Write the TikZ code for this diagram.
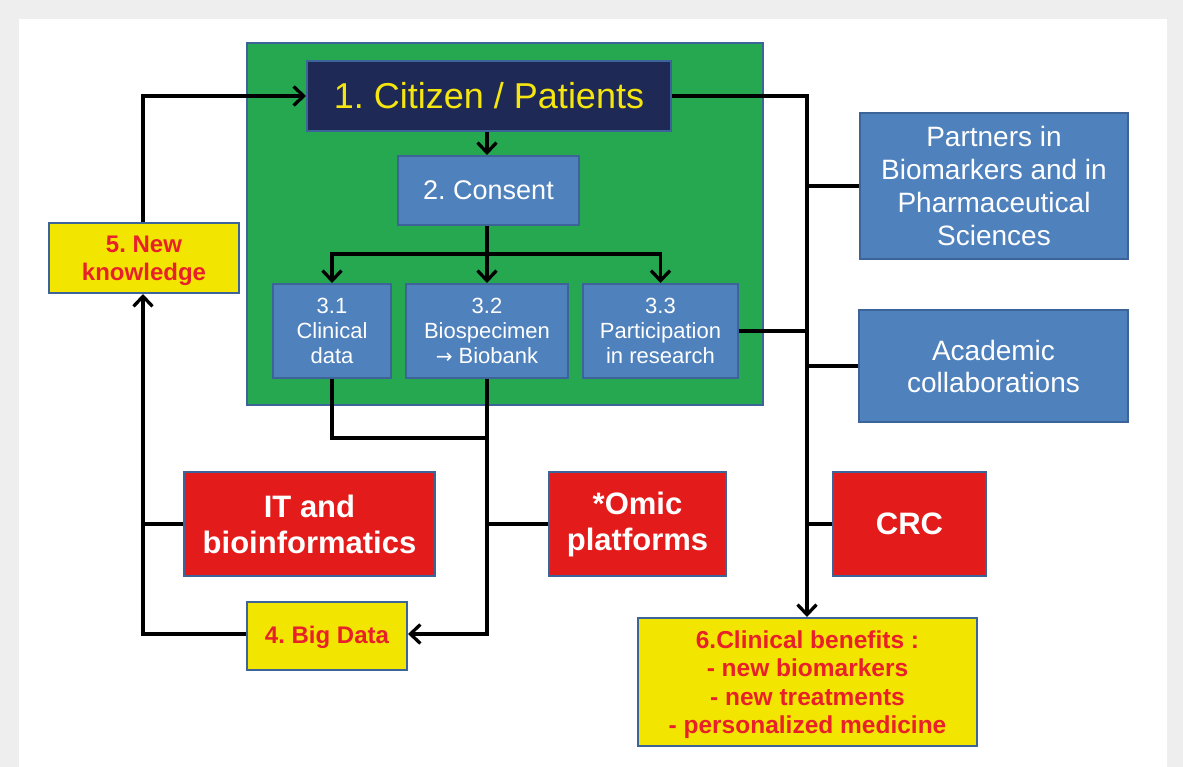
\documentclass[tikz,border=0pt]{standalone}
\usepackage{fontspec}
\setmainfont{Liberation Sans}
\newfontfamily\arrowfont{DejaVu Sans}
\frenchspacing
\usetikzlibrary{arrows.meta}
\definecolor{bggray}{HTML}{EEEEEE}
\definecolor{grn}{HTML}{25A84F}
\definecolor{navy}{HTML}{1E2A55}
\definecolor{bluebox}{HTML}{4F81BD}
\definecolor{bordblue}{HTML}{3C6498}
\definecolor{yel}{HTML}{F2E500}
\definecolor{redbox}{HTML}{E31B1B}
\definecolor{redtxt}{HTML}{E8202A}
\definecolor{yeltxt}{HTML}{F5E60F}
\tikzset{
  bx/.style={draw=bordblue, line width=2pt, inner sep=0pt, align=center},
  bluebx/.style={bx, fill=bluebox, text=white},
  redbx/.style={bx, fill=redbox, text=white, font=\bfseries},
  yelbx/.style={bx, fill=yel, text=redtxt, font=\bfseries},
  conn/.style={line width=3.3pt, black},
  arr/.style={conn, -{Straight Barb[length=10pt, width=19pt, line width=3.3pt]}}
}
\begin{document}
\begin{tikzpicture}[x=1pt, y=-1pt]
\fill[bggray] (0,0) rectangle (1183,767);
\fill[white] (19,19) rectangle (1167,767);
\useasboundingbox (0,0) rectangle (1183,767);
% green panel
\node[bx, fill=grn, minimum width=516pt, minimum height=362pt] (green) at (505,224) {};
% nodes
\node[bx, fill=navy, text=yeltxt, minimum width=364pt, minimum height=70pt, font=\fontsize{36}{40}\selectfont] (cit) at (489,96) {1. Citizen / Patients};
\node[bluebx, minimum width=181pt, minimum height=69pt, font=\fontsize{27}{31}\selectfont] (cons) at (488.5,190.5) {2. Consent};
\node[bluebx, minimum width=118pt, minimum height=94pt, font=\fontsize{22}{25}\selectfont] (c31) at (332,331) {3.1\\Clinical\\data};
\node[bluebx, minimum width=162pt, minimum height=94pt, font=\fontsize{22}{25}\selectfont] (c32) at (487,331) {3.2\\Biospecimen\\{\arrowfont\fontsize{20}{25}\selectfont →} Biobank};
\node[bluebx, minimum width=155pt, minimum height=94pt, font=\fontsize{22}{25}\selectfont] (c33) at (660.5,331) {3.3\\Participation\\in research};
\node[bluebx, minimum width=268pt, minimum height=146pt, font=\fontsize{28}{33}\selectfont] (part) at (994,186) {Partners in\\Biomarkers and in\\Pharmaceutical\\Sciences};
\node[bluebx, minimum width=269pt, minimum height=112pt, font=\fontsize{28}{32}\selectfont] (acad) at (993.5,366) {Academic\\collaborations};
\node[yelbx, minimum width=190pt, minimum height=70pt, font=\bfseries\fontsize{24}{28}\selectfont] (newk) at (144,258) {\rule{0pt}{22pt}5. New\\knowledge};
\node[redbx, minimum width=251pt, minimum height=104pt, font=\bfseries\fontsize{31}{36}\selectfont] (it) at (309.5,524) {IT and\\bioinformatics};
\node[redbx, minimum width=177pt, minimum height=104pt, font=\bfseries\fontsize{31}{36}\selectfont] (omic) at (637.5,524) {*Omic\\platforms};
\node[redbx, minimum width=153pt, minimum height=104pt, font=\bfseries\fontsize{31}{36}\selectfont] (crc) at (909.5,524) {CRC};
\node[yelbx, minimum width=160pt, minimum height=68pt, font=\bfseries\fontsize{24}{28}\selectfont] (big) at (327,636) {\rule{0pt}{21pt}4. Big Data};
\node[yelbx, minimum width=339pt, minimum height=128pt, font=\bfseries\fontsize{24.5}{28.5}\selectfont] (clin) at (807.5,682) {\rule{0pt}{23pt}6.Clinical benefits :\\- new biomarkers\\- new treatments\\- personalized medicine};
% coordinates
\coordinate (split) at (487,254);
\coordinate (lx) at (143,96);
\coordinate (rx) at (807,96);
\coordinate (j1) at (487,438);
\coordinate (j2) at (487,634);
\coordinate (lb) at (143,634);
% connectors
\draw[arr] (newk.north -| lx) |- (cit.west);
\draw[arr] (cit.south -| split) -- (cons.north -| split);
\draw[conn] (cons.south -| split) -- (split);
\draw[arr] (split) -| (c31.north);
\draw[arr] (split) -| (c33.north);
\draw[arr] (split) -- (c32.north);
\draw[conn] (c31.south) |- (j1);
\draw[arr] (c32.south) -- (j2) -- (big.east |- j2);
\draw[conn] (omic.west) -- (omic.west -| j2);
\draw[arr] (big.west |- lb) -- (lb) -- (newk.south -| lb);
\draw[conn] (it.west) -- (it.west -| lb);
\draw[arr] (cit.east |- rx) -- (rx) -- (clin.north -| rx);
\draw[conn] (part.west) -- (part.west -| rx);
\draw[conn] (c33.east) -- (c33.east -| rx);
\draw[conn] (acad.west) -- (acad.west -| rx);
\draw[conn] (crc.west) -- (crc.west -| rx);
\end{tikzpicture}
\end{document}
